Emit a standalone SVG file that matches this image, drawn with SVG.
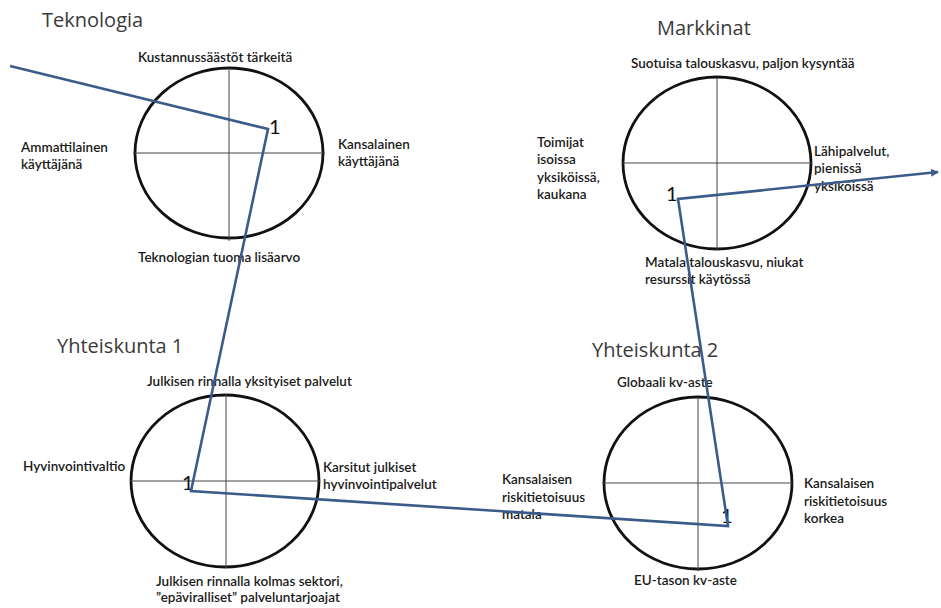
<svg xmlns="http://www.w3.org/2000/svg" width="941" height="608" viewBox="0 0 941 608">
<defs>
<style>
.title{font-family:"Open Sans","Liberation Sans",sans-serif;font-size:20px;fill:#3a3a3a;}
.lbl{font-family:Lato,"Liberation Sans",sans-serif;font-size:13.5px;fill:#1a1a1a;font-weight:600;}
.one{font-family:Lato,"Liberation Sans",sans-serif;font-size:20px;fill:#111;}
.circ{fill:none;stroke:#111;stroke-width:2.8;}
.axis{stroke:#444;stroke-width:1;}
.path{fill:none;stroke:#3b5b8a;stroke-width:2.6;stroke-linejoin:miter;}
</style>
<marker id="arr" markerWidth="8" markerHeight="8" refX="7" refY="4" orient="auto" markerUnits="userSpaceOnUse">
<path d="M0,0 L8,4 L0,8 z" fill="#3b5b8a"/>
</marker>
</defs>
<rect width="941" height="608" fill="#fff"/>

<g id="teknologia">
<text class="title" x="42" y="27">Teknologia</text>
<ellipse class="circ" cx="229" cy="153" rx="94" ry="85"/>
<line class="axis" x1="133" y1="153" x2="325" y2="153"/>
<line class="axis" x1="229" y1="68" x2="229" y2="241"/>
<text class="lbl" x="138" y="62">Kustannussäästöt tärkeitä</text>
<text class="lbl" x="21" y="152">Ammattilainen</text>
<text class="lbl" x="21" y="169">käyttäjänä</text>
<text class="lbl" x="338" y="149">Kansalainen</text>
<text class="lbl" x="338" y="166">käyttäjänä</text>
<text class="lbl" x="138" y="262">Teknologian tuoma lisäarvo</text>
<text class="one" x="269" y="134">1</text>
</g>

<g id="markkinat">
<text class="title" x="657" y="35">Markkinat</text>
<ellipse class="circ" cx="717" cy="163" rx="94" ry="86"/>
<line class="axis" x1="622" y1="163" x2="812" y2="163"/>
<line class="axis" x1="717" y1="78" x2="717" y2="250"/>
<text class="lbl" x="631" y="68">Suotuisa talouskasvu, paljon kysyntää</text>
<text class="lbl" x="537" y="147">Toimijat</text>
<text class="lbl" x="537" y="164">isoissa</text>
<text class="lbl" x="537" y="182">yksiköissä,</text>
<text class="lbl" x="537" y="199">kaukana</text>
<text class="lbl" x="814" y="156">Lähipalvelut,</text>
<text class="lbl" x="814" y="173">pienissä</text>
<text class="lbl" x="814" y="191">yksiköissä</text>
<text class="lbl" x="645" y="267">Matala talouskasvu, niukat</text>
<text class="lbl" x="645" y="284">resurssit käytössä</text>
<text class="one" x="666" y="201">1</text>
</g>

<g id="yhteiskunta1">
<text class="title" x="57" y="353">Yhteiskunta 1</text>
<ellipse class="circ" cx="225" cy="481" rx="94" ry="86"/>
<line class="axis" x1="130" y1="481" x2="320" y2="481"/>
<line class="axis" x1="226" y1="394" x2="226" y2="568"/>
<text class="lbl" x="147" y="386">Julkisen rinnalla yksityiset palvelut</text>
<text class="lbl" x="23" y="471">Hyvinvointivaltio</text>
<text class="lbl" x="323" y="472">Karsitut julkiset</text>
<text class="lbl" x="323" y="489">hyvinvointipalvelut</text>
<text class="lbl" x="156" y="586">Julkisen rinnalla kolmas sektori,</text>
<text class="lbl" x="156" y="602">”epäviralliset” palveluntarjoajat</text>
<text class="one" x="182" y="490">1</text>
</g>

<g id="yhteiskunta2">
<text class="title" x="592" y="357">Yhteiskunta 2</text>
<ellipse class="circ" cx="698" cy="483" rx="94" ry="86"/>
<line class="axis" x1="602" y1="483" x2="793" y2="483"/>
<line class="axis" x1="698" y1="397" x2="698" y2="571"/>
<text class="lbl" x="617" y="387">Globaali kv-aste</text>
<text class="lbl" x="502" y="484">Kansalaisen</text>
<text class="lbl" x="502" y="502">riskitietoisuus</text>
<text class="lbl" x="502" y="519">matala</text>
<text class="lbl" x="804" y="488">Kansalaisen</text>
<text class="lbl" x="804" y="506">riskitietoisuus</text>
<text class="lbl" x="804" y="523">korkea</text>
<text class="lbl" x="634" y="585">EU-tason kv-aste</text>
<text class="one" x="721" y="523">1</text>
</g>

<g id="connectors">
<polyline class="path" points="10,66 268,129 191,491 728,526 678,199 938,172" marker-end="url(#arr)"/>
</g>
</svg>
